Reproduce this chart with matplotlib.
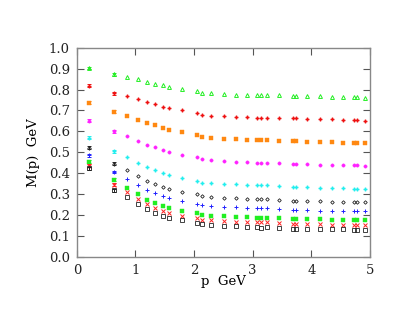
import matplotlib
matplotlib.use("Agg")
import matplotlib.pyplot as plt
import numpy as np

# momentum values (GeV), shared by all series
p = [0.205, 0.626, 0.853, 1.041, 1.200, 1.337, 1.462, 1.576, 1.786, 2.054,
     2.139, 2.292, 2.509, 2.713, 2.901, 3.077, 3.134, 3.242, 3.453, 3.692,
     3.737, 3.925, 4.141, 4.346, 4.545, 4.733, 4.784, 4.920]

m_green_tri = [0.903, 0.874, 0.861, 0.849, 0.836, 0.828, 0.820, 0.814, 0.804, 0.793,
               0.782, 0.782, 0.777, 0.774, 0.774, 0.774, 0.774, 0.774, 0.772, 0.771,
               0.771, 0.769, 0.767, 0.766, 0.764, 0.763, 0.763, 0.760]
m_red_dot = [0.818, 0.783, 0.769, 0.753, 0.739, 0.729, 0.718, 0.712, 0.701, 0.688,
             0.677, 0.675, 0.672, 0.669, 0.667, 0.666, 0.666, 0.666, 0.664, 0.662,
             0.662, 0.661, 0.659, 0.658, 0.656, 0.654, 0.654, 0.651]
m_orange = [0.736, 0.693, 0.675, 0.656, 0.640, 0.629, 0.616, 0.608, 0.596, 0.583,
            0.573, 0.570, 0.565, 0.562, 0.561, 0.559, 0.559, 0.559, 0.556, 0.553,
            0.553, 0.551, 0.549, 0.548, 0.546, 0.545, 0.545, 0.543]
m_magenta = [0.651, 0.600, 0.580, 0.556, 0.537, 0.524, 0.510, 0.502, 0.489, 0.476,
             0.467, 0.462, 0.459, 0.455, 0.452, 0.451, 0.451, 0.451, 0.447, 0.444,
             0.444, 0.443, 0.441, 0.439, 0.438, 0.438, 0.438, 0.436]
m_cyan = [0.570, 0.505, 0.479, 0.451, 0.428, 0.414, 0.400, 0.392, 0.377, 0.365,
          0.355, 0.352, 0.350, 0.347, 0.344, 0.342, 0.342, 0.342, 0.339, 0.334,
          0.334, 0.333, 0.331, 0.330, 0.328, 0.326, 0.326, 0.325]
m_black_dia = [0.521, 0.446, 0.416, 0.387, 0.363, 0.349, 0.333, 0.325, 0.311, 0.299,
               0.290, 0.287, 0.283, 0.280, 0.277, 0.276, 0.276, 0.276, 0.272, 0.268,
               0.268, 0.266, 0.266, 0.264, 0.264, 0.263, 0.263, 0.263]
m_blue = [0.487, 0.406, 0.373, 0.344, 0.318, 0.304, 0.290, 0.280, 0.266, 0.253,
          0.247, 0.242, 0.240, 0.237, 0.234, 0.232, 0.232, 0.232, 0.229, 0.225,
          0.225, 0.223, 0.221, 0.221, 0.221, 0.220, 0.220, 0.218]
m_green_sq = [0.455, 0.368, 0.331, 0.299, 0.274, 0.258, 0.242, 0.234, 0.221, 0.209,
              0.202, 0.197, 0.194, 0.191, 0.189, 0.188, 0.188, 0.188, 0.185, 0.182,
              0.182, 0.180, 0.180, 0.178, 0.177, 0.175, 0.175, 0.175]
m_red_x = [0.436, 0.344, 0.309, 0.279, 0.253, 0.236, 0.220, 0.212, 0.197, 0.185,
           0.178, 0.175, 0.172, 0.169, 0.167, 0.166, 0.166, 0.166, 0.162, 0.159,
           0.159, 0.158, 0.156, 0.154, 0.154, 0.153, 0.153, 0.153]
m_black_sq = [0.424, 0.318, 0.288, 0.255, 0.228, 0.212, 0.194, 0.185, 0.175, 0.164,
              0.158, 0.154, 0.150, 0.146, 0.143, 0.143, 0.140, 0.142, 0.139, 0.135,
              0.135, 0.134, 0.134, 0.132, 0.132, 0.131, 0.131, 0.131]

# error on the two lowest-momentum points
err_low = [0.007, 0.007]

series = [
    (m_green_tri, dict(marker='^', mfc='none', mec='#22ee22', ms=2.8, mew=0.7)),
    (m_red_dot, dict(marker='P', mfc='#ee1111', mec='#ee1111', ms=2.4, mew=0.3)),
    (m_orange, dict(marker='s', mfc='#ff8811', mec='#ff8811', ms=2.8, mew=0.3)),
    (m_magenta, dict(marker='o', mfc='#ff22ff', mec='#ff22ff', ms=2.4, mew=0.3)),
    (m_cyan, dict(marker='P', mfc='#22eeee', mec='#22eeee', ms=2.4, mew=0.3)),
    (m_black_dia, dict(marker='D', mfc='none', mec='#222222', ms=1.8, mew=0.6)),
    (m_blue, dict(marker='+', mfc='none', mec='#2222ff', ms=2.8, mew=0.7)),
    (m_green_sq, dict(marker='s', mfc='#22ee22', mec='#22ee22', ms=2.8, mew=0.3)),
    (m_red_x, dict(marker='x', mfc='none', mec='#ff2222', ms=2.4, mew=0.7)),
    (m_black_sq, dict(marker='s', mfc='none', mec='#222222', ms=2.4, mew=0.6)),
]

plt.rcParams['font.family'] = ['DejaVu Serif']

fig = plt.figure(figsize=(4.11, 3.18), dpi=100)
ax = fig.add_axes([0.187, 0.192, 0.713, 0.658])

for vals, st in series:
    ax.plot(p, vals, linestyle='none', **st)
    ax.errorbar(p[:2], vals[:2], yerr=err_low, fmt='none',
                ecolor=st['mec'], elinewidth=0.7, capsize=1.2, capthick=0.7)

ax.set_xlim(0, 5)
ax.set_ylim(0, 1.0)
ax.set_xticks([0, 1, 2, 3, 4, 5])
ax.set_yticks(np.arange(0, 1.01, 0.1))
ax.set_yticklabels(['%.1f' % v for v in np.arange(0, 1.01, 0.1)])
ax.tick_params(direction='in', top=True, right=True, length=5, width=0.8,
               labelsize=9.5, colors='#555555', labelcolor='#222222', pad=5)
for s in ax.spines.values():
    s.set_color('#888888')
    s.set_linewidth(1.0)

ax.set_xlabel('p  GeV', fontsize=9.5, labelpad=-1)
ax.set_ylabel('M(p)  GeV', fontsize=9.5, labelpad=6)

fig.savefig('out.png', dpi=100)
